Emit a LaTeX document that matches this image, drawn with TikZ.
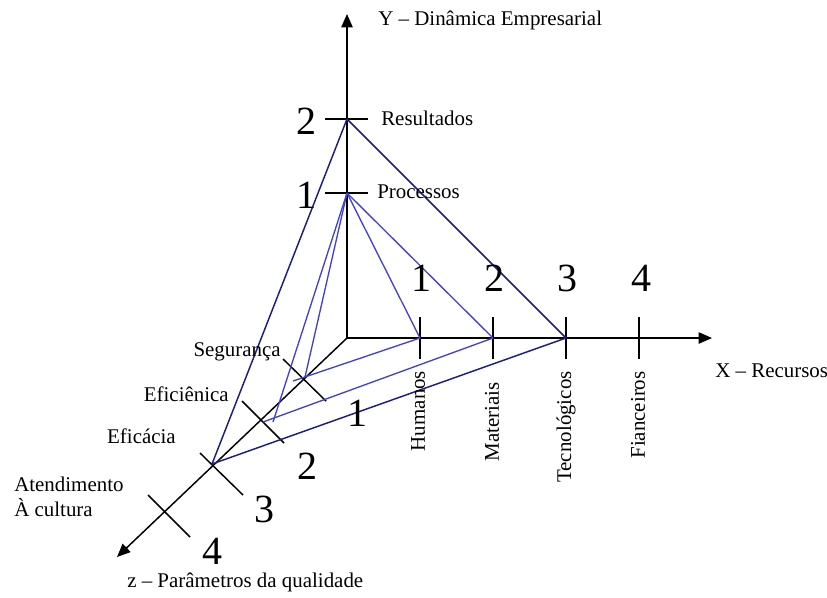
\documentclass[tikz,border=0pt]{standalone}
\usepackage{fontspec}
\setmainfont{Liberation Serif}
\usetikzlibrary{arrows.meta}
\definecolor{navyline}{RGB}{28,28,140}
\definecolor{blueline}{RGB}{64,64,216}
\begin{document}
\begin{tikzpicture}[x=0.75pt,y=-0.75pt,
  axis/.style={black,line width=1.1pt,-{Triangle[length=10pt,width=8.5pt]}},
  tick/.style={black,line width=1.1pt},
  outer/.style={navyline,line width=1.1pt,line join=round},
  inner/.style={blueline,line width=1pt,line join=round},
  lbl/.style={font=\fontsize{15.7}{18}\selectfont,inner sep=0pt},
  num/.style={font=\fontsize{30}{34}\selectfont,inner sep=0pt}]
\useasboundingbox (0,0) rectangle (827,597);

% origin and axis ends
\coordinate (O) at (347,338);
\coordinate (Yend) at (347,14);
\coordinate (Xend) at (712,338);
\coordinate (Zend) at (117,557);

% graduation points on the axes
\coordinate (Y1) at (347,193);
\coordinate (Y2) at (347,119);
\coordinate (X1) at (420,338);
\coordinate (X2) at (493,338);
\coordinate (X3) at (566,338);
\coordinate (X4) at (639,338);
\coordinate (Z1) at (305,377);
\coordinate (Z2) at (262,420);
\coordinate (Z3) at (212,464);
\coordinate (Z4) at (165,512);

% free ends of the inner (level 1) lines
\coordinate (Ha) at (293,381);
\coordinate (Ma) at (263,422);
\coordinate (Pa) at (273,422);

% axes
\draw[axis] (O) -- (Yend);
\draw[axis] (O) -- (Xend);
\draw[axis] (O) -- (Zend);

% ticks on Y
\draw[tick] (Y1) ++(-22,0) -- ++(43,0);
\draw[tick] (Y2) ++(-22,0) -- ++(43,0);
% ticks on X
\foreach \p in {X1,X2,X3,X4}
  \draw[tick] (\p) ++(0,-21) -- ++(0,42);
% ticks on z
\draw[tick] (283,359) -- (326,401);
\draw[tick] (242,401) -- (284,443);
\draw[tick] (200,453) -- (243,495);
\draw[tick] (148,495) -- (190,537);

% outer triangle
\draw[outer] (Y2) -- (X3) -- (Z3) -- cycle;

% inner lines
\draw[inner] (Y1) -- (X1) -- (Ha);
\draw[inner] (Y1) -- (Z1);
\draw[inner] (Y1) -- (X2) -- (Ma);
\draw[inner] (Y1) -- (Pa);

% axis titles
\node[lbl,anchor=base west] (ty) at (378,25) {Y -- Dinâmica Empresarial};
\node[lbl,anchor=base west] (tx) at (715,377) {X -- Recursos};
\node[lbl,anchor=base west] (tz) at (127,587) {z -- Parâmetros da qualidade};

% Y labels
\node[lbl,anchor=base west] (lres) at (381,125) {Resultados};
\node[lbl,anchor=base west] (lpro) at (377,198) {Processos};

% X labels
\node[lbl,rotate=90] (lhum) at (418,411) {Humanos};
\node[lbl,rotate=90] (lmat) at (492,422) {Materiais};
\node[lbl,rotate=90] (ltec) at (566,427) {Tecnológicos};
\node[lbl,rotate=90] (lfin) at (638,415) {Fianceiros};

% z labels
\node[lbl,anchor=base east] (lseg) at (281,356) {Segurança};
\node[lbl,anchor=base east] (lefn) at (229,401) {Eficiênica};
\node[lbl,anchor=base east] (lefc) at (176,443) {Eficácia};
\node[lbl,anchor=base west] (late) at (14,491) {Atendimento};
\node[lbl,anchor=base west] (lcul) at (14,516) {À cultura};

% level numbers
\node[num] (ny2) at (306,121) {2};
\node[num] (ny1) at (306,195) {1};
\node[num] (nx1) at (421,278) {1};
\node[num] (nx2) at (494,278) {2};
\node[num] (nx3) at (567,278) {3};
\node[num] (nx4) at (641,278) {4};
\node[num] (nz1) at (357,413) {1};
\node[num] (nz2) at (307,466) {2};
\node[num] (nz3) at (264,509) {3};
\node[num] (nz4) at (212,551) {4};
\end{tikzpicture}
\end{document}
